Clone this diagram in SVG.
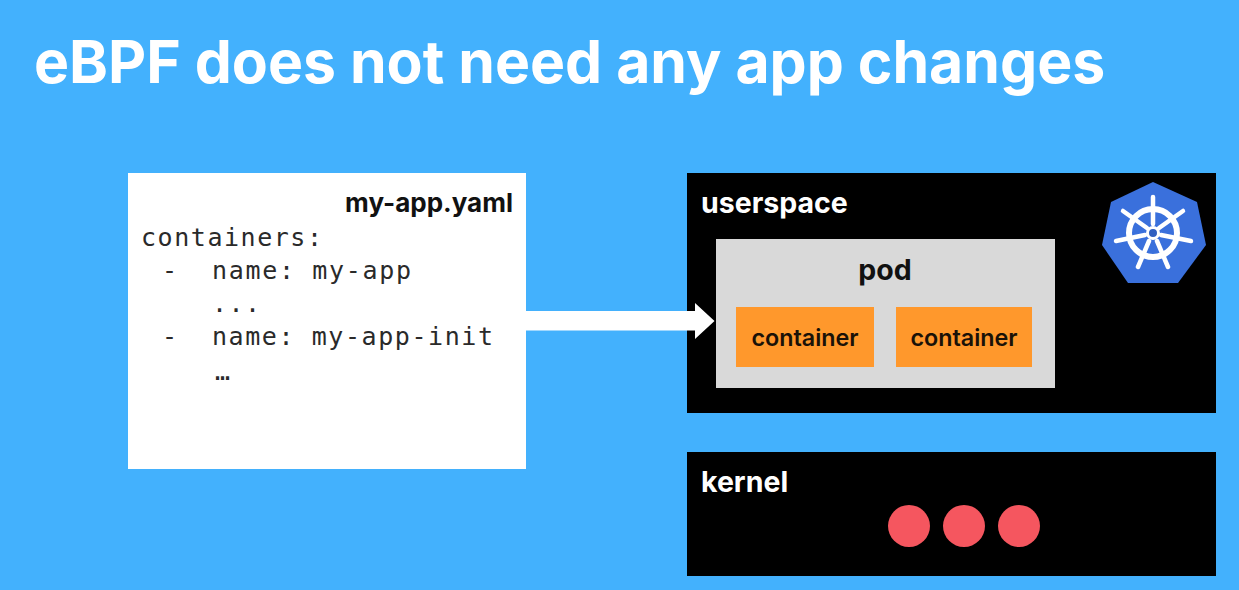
<svg xmlns="http://www.w3.org/2000/svg" width="1239" height="590" viewBox="0 0 1239 590">
<style>
.b{font-family:Inter,"Liberation Sans",sans-serif;font-weight:700}
.l{font-size:28.5px;fill:#fff}
.c{font-size:23.300px;fill:#1a1208;text-anchor:middle;font-weight:600}
.mono{font-family:"DejaVu Sans Mono",monospace;font-size:25px;fill:#2a2a2a}
.dot{fill:#f5565f}
.w{stroke:#fff;fill:none;stroke-linecap:round}
</style>
<rect width="1239" height="590" fill="#43b1fd"/>
<text id="title" class="b" x="34" y="83" font-size="58.900" fill="#fff">eBPF does not need any app changes</text>
<g id="yaml">
<rect x="128" y="173" width="398" height="296" fill="#fff"/>
<text class="b" x="513" y="212" font-size="26" fill="#111" text-anchor="end">my-app.yaml</text>
<text class="mono" x="141" y="246" textLength="181">containers:</text>
<text class="mono" x="162" y="279">-</text>
<text class="mono" x="212" y="279" textLength="199">name: my-app</text>
<text class="mono" x="212" y="312" textLength="48">...</text>
<text class="mono" x="162" y="345">-</text>
<text class="mono" x="212" y="345" textLength="281">name: my-app-init</text>
<text class="mono" x="215" y="380" font-size="16">…</text>
</g>
<g id="userspace">
<rect x="687" y="173" width="529" height="240" fill="#000"/>
<text class="b l" x="701" y="213">userspace</text>
</g>
<g id="k8s">
<polygon points="1153,182 1197,202 1206,245 1178,283 1128,283 1102,245 1111,202" fill="#3a70dc" stroke-linejoin="round"/>
<circle class="w" cx="1153" cy="233" r="24" stroke-width="6"/>
<g class="w" stroke-width="4.500">
<path d="M1153 197V224"/>
<path d="M1123 211L1147 228M1183 211L1159 228"/>
<path d="M1116 241L1145 235M1191 241L1161 235"/>
<path d="M1138 267L1149 241M1168 267L1157 241"/>
</g>
<circle cx="1153" cy="233" r="5.500" fill="#2f5fc0" stroke="#fff" stroke-width="3"/>
</g>
<g id="pod">
<rect x="716" y="239" width="339" height="149" fill="#d9d9d9"/>
<text class="b" x="885" y="280" font-size="28.500" fill="#111" text-anchor="middle">pod</text>
</g>
<g id="container1">
<rect x="736" y="307" width="138" height="60" fill="#ff982c"/>
<text class="b c" x="805" y="346">container</text>
</g>
<g id="container2">
<rect x="896" y="307" width="136" height="60" fill="#ff982c"/>
<text class="b c" x="964" y="346">container</text>
</g>
<g id="kernel">
<rect x="687" y="452" width="529" height="124" fill="#000"/>
<text class="b l" x="701" y="492">kernel</text>
<circle class="dot" cx="909" cy="526" r="21"/>
<circle class="dot" cx="964" cy="526" r="21"/>
<circle class="dot" cx="1019" cy="526" r="21"/>
</g>
<g id="connectors">
<path d="M526 311H695V303L714.500 321L695 339V330.500H526Z" fill="#fff"/>
</g>
</svg>
